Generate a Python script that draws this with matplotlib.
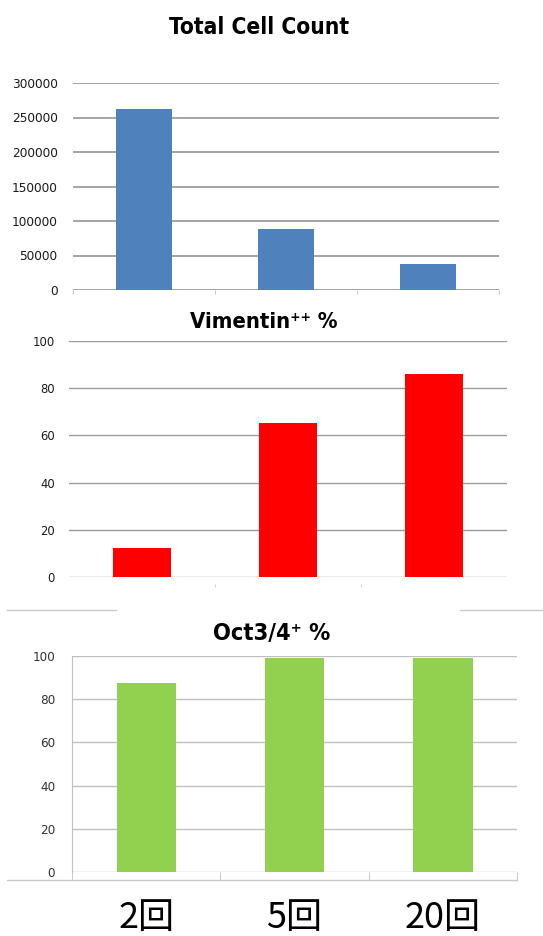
import matplotlib
matplotlib.use("Agg")
import matplotlib.pyplot as plt
from matplotlib.lines import Line2D
from matplotlib import font_manager

# data
categories = ["2回", "5回", "20回"]
total_cells = [262000, 89000, 37000]
vimentin_pct = [12.3, 65.3, 86.0]
oct34_pct = [87.5, 99.0, 99.0]

cell_ticks = [0, 50000, 100000, 150000, 200000, 250000, 300000]
pct_ticks = [0, 20, 40, 60, 80, 100]

# the original is Calibri; use a condensed face when there is one
stretch = "normal"
for f in font_manager.fontManager.ttflist:
    if f.name == "DejaVu Sans" and "Condensed" in f.fname:
        stretch = "condensed"
        break
k = 1.0 if stretch == "condensed" else 0.93
plt.rcParams['font.family'] = ["DejaVu Sans"]
plt.rcParams['font.stretch'] = stretch

W, H = 543, 936
fig = plt.figure(figsize=(W / 100, H / 100), dpi=100)


def px_axes(l, t, r, b):
    return fig.add_axes([l / W, 1 - b / H, (r - l) / W, (b - t) / H])


x = list(range(len(categories)))

# PLOT 1 { Total Cell Count }
ax1 = px_axes(73, 83, 499, 290)
ax1.bar(x, total_cells, width=0.4, color="#4F81BD", zorder=3)
ax1.set_xlim(-0.5, 2.5)
ax1.set_ylim(0, 300000)
ax1.set_yticks(cell_ticks)
ax1.set_yticklabels([str(v) for v in cell_ticks], fontsize=9.7 * k, color="#1a1a1a")
ax1.grid(axis="y", color="#8c8c8c", linewidth=1.1, zorder=0)
for s in ax1.spines.values():
    s.set_visible(False)
ax1.tick_params(axis="y", length=0, pad=11)
ax1.set_xticks([])
ax1.set_xticks([-0.5, 0.5, 1.5, 2.5], minor=True)
ax1.tick_params(axis="x", which="minor", length=3, color="#bbbbbb")
fig.text(259.5 / W, 1 - 28 / H, "Total Cell Count", ha="center", va="center",
         fontsize=16.3 * k, fontweight="bold")

# PLOT 2 { Vimentin++ % }
ax2 = px_axes(69, 341, 507, 577)
ax2.bar(x, vimentin_pct, width=0.4, color="#FF0000", zorder=3)
ax2.set_xlim(-0.5, 2.5)
ax2.set_ylim(0, 100)
ax2.set_yticks(pct_ticks)
ax2.set_yticklabels([str(v) for v in pct_ticks], fontsize=9.3 * k, color="#1a1a1a")
ax2.grid(axis="y", color="#9a9a9a", linewidth=1.0, zorder=0)
for s in ax2.spines.values():
    s.set_visible(False)
ax2.spines["bottom"].set_position(("outward", 5))
ax2.tick_params(axis="y", length=0, pad=10)
ax2.set_xticks([])
ax2.set_xticks([0.5, 1.5], minor=True)
ax2.tick_params(axis="x", which="minor", length=2, color="#cccccc")
fig.text(263.5 / W, 1 - 322 / H, "Vimentin⁺⁺ %", ha="center", va="center",
         fontsize=15.8 * k, fontweight="bold")

# PLOT 3 { Oct3/4+ % }
ax3 = px_axes(72, 656, 517, 872)
ax3.bar(x, oct34_pct, width=0.4, color="#92D050", zorder=3)
ax3.set_xlim(-0.5, 2.5)
ax3.set_ylim(0, 100)
ax3.set_yticks(pct_ticks)
ax3.set_yticklabels([str(v) for v in pct_ticks], fontsize=9.6 * k, color="#333333")
ax3.grid(axis="y", color="#c0c0c0", linewidth=1.0, zorder=0)
for s in ["top", "right", "bottom"]:
    ax3.spines[s].set_visible(False)
ax3.spines["left"].set_color("#c0c0c0")
ax3.tick_params(axis="y", length=0, pad=12)
ax3.set_xticks(x)
ax3.set_xticklabels(categories, family=["Noto Sans CJK JP", "DejaVu Sans"],
                    fontsize=26, color="black", stretch="normal")
ax3.tick_params(axis="x", which="major", length=0, pad=20)
ax3.set_xticks([-0.5, 0.5, 1.5, 2.5], minor=True)
ax3.tick_params(axis="x", which="minor", length=6, color="#c0c0c0")
fig.text(271.5 / W, 1 - 633 / H, "Oct3/4⁺ %", ha="center", va="center",
         fontsize=16.9 * k, fontweight="bold")

# border pieces around the third chart
for x0, x1, y in [(7, 517, 880), (7, 116, 610), (460, 543, 610)]:
    fig.add_artist(Line2D([x0 / W, x1 / W], [1 - y / H, 1 - y / H],
                          transform=fig.transFigure, color="#c8c8c8", linewidth=1))

fig.savefig("out.png", dpi=100)
